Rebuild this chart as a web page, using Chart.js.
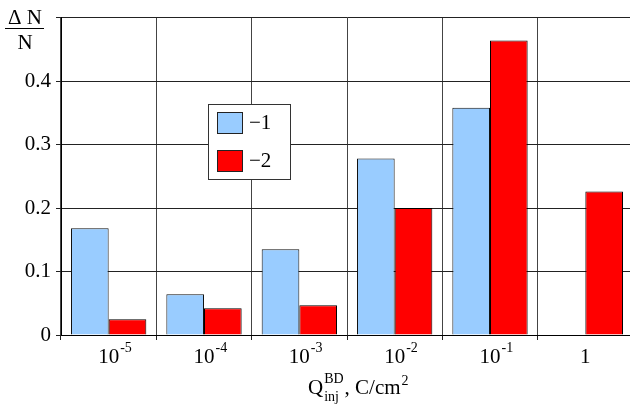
<!DOCTYPE html>
<html>
<head>
<meta charset="utf-8">
<script src="https://cdn.jsdelivr.net/npm/chart.js@4"></script>
<style>
  html, body { margin: 0; padding: 0; background: #fff; overflow: hidden; }
  #wrap { width: 640px; height: 412px; }
</style>
</head>
<body>
<div id="wrap"><canvas id="chart" width="640" height="412"></canvas></div>
<script>
// ===== DATA =====
const categories = ['10|-5', '10|-4', '10|-3', '10|-2', '10|-1', '1|'];
const series1 = [0.168, 0.064, 0.135, 0.278, 0.358, null];
const series2 = [0.025, 0.042, 0.047, 0.200, 0.464, 0.226];
const seriesLabels = ['\u22121', '\u22122'];
const yTicks = [0, 0.1, 0.2, 0.3, 0.4, 0.5];

const SERIF = '"Liberation Serif", "Times New Roman", serif';

/**
 * Draw the x tick labels as base + superscript exponent, plus axis titles
 */
const xLabelPlugin = {
    id: 'xLabels',
    afterDraw(chart) {
        const ctx = chart.ctx;
        const xs = chart.scales.x;
        ctx.save();
        ctx.fillStyle = '#000';
        ctx.textBaseline = 'alphabetic';
        categories.forEach((lab, i) => {
            const parts = lab.split('|');
            const cx = xs.getPixelForValue(i);
            ctx.font = '21px ' + SERIF;
            const w = ctx.measureText(parts[0]).width;
            ctx.textAlign = 'left';
            ctx.fillText(parts[0], cx - w / 2, 363);
            if (parts[1]) {
                ctx.font = '14px ' + SERIF;
                ctx.fillText(parts[1], cx + w / 2 + 1, 352);
            }
        });

        // axis title: Q_inj^BD , C/cm^2
        let x = 308;
        ctx.font = '21px ' + SERIF;
        ctx.fillText('Q', x, 394);
        x += ctx.measureText('Q').width + 1;
        ctx.font = '14px ' + SERIF;
        ctx.fillText('BD', x, 383);
        ctx.fillText('inj', x, 401);
        x += ctx.measureText('BD').width + 1;
        ctx.font = '21px ' + SERIF;
        ctx.fillText(', C/cm', x, 394);
        x += ctx.measureText(', C/cm').width + 1;
        ctx.font = '14px ' + SERIF;
        ctx.fillText('2', x, 385);

        // y axis title as fraction dN/N
        ctx.font = '21px ' + SERIF;
        ctx.textAlign = 'center';
        ctx.fillText('\u0394 N', 25, 24);
        ctx.fillText('N', 25, 49);
        ctx.strokeStyle = '#000';
        ctx.lineWidth = 1;
        ctx.beginPath();
        ctx.moveTo(5, 28.5);
        ctx.lineTo(44, 28.5);
        ctx.stroke();
        ctx.restore();
    }
};

/**
 * Boxed legend placed inside the plot area
 */
const boxLegendPlugin = {
    id: 'boxLegend',
    afterDraw(chart) {
        const ctx = chart.ctx;
        ctx.save();
        ctx.fillStyle = '#fff';
        ctx.fillRect(208, 104, 83, 76);
        ctx.strokeStyle = '#333';
        ctx.lineWidth = 1;
        ctx.strokeRect(208.5, 104.5, 82, 75);
        chart.data.datasets.forEach((ds, i) => {
            const y = 112 + i * 38;
            ctx.fillStyle = ds.backgroundColor;
            ctx.fillRect(217, y, 26, 22);
            ctx.strokeStyle = '#222';
            ctx.strokeRect(217.5, y + 0.5, 25, 21);
            ctx.fillStyle = '#000';
            ctx.font = '21px ' + SERIF;
            ctx.textAlign = 'left';
            ctx.textBaseline = 'middle';
            ctx.fillText(ds.label, 249, y + 11);
        });
        ctx.restore();
    }
};

function drawChart() {
    const ctx = document.getElementById('chart').getContext('2d');
    new Chart(ctx, {
        type: 'bar',
        data: {
            labels: categories,
            datasets: [{
                label: seriesLabels[0],
                data: series1,
                backgroundColor: '#99ccff',
                borderColor: '#111',
                borderWidth: 1
            }, {
                label: seriesLabels[1],
                data: series2,
                backgroundColor: '#ff0000',
                borderColor: '#000',
                borderWidth: 1
            }]
        },
        options: {
            responsive: false,
            animation: false,
            layout: { padding: { left: 0, top: 16, right: 7, bottom: 0 } },
            categoryPercentage: 0.79,
            barPercentage: 1.0,
            plugins: {
                legend: { display: false },
                tooltip: { enabled: false }
            },
            scales: {
                x: {
                    grid: {
                        offset: true,
                        color: '#444',
                        lineWidth: 1,
                        tickLength: 5,
                        tickColor: '#222'
                    },
                    border: { color: '#000', width: 1 },
                    ticks: { display: false },
                    afterFit(scale) { scale.height = 77; }
                },
                y: {
                    min: 0,
                    max: 0.5,
                    afterBuildTicks(scale) {
                        scale.ticks = yTicks.map(v => ({ value: v }));
                    },
                    grid: {
                        color: '#222',
                        lineWidth: 1,
                        tickLength: 5,
                        tickColor: '#222'
                    },
                    border: { color: '#000', width: 1 },
                    ticks: {
                        padding: 5,
                        color: '#000',
                        font: { family: SERIF, size: 21 },
                        callback: function(v) {
                            return v >= 0.5 ? '' : String(Math.round(v * 10) / 10);
                        }
                    },
                    afterFit(scale) { scale.width = 61; }
                }
            }
        },
        plugins: [xLabelPlugin, boxLegendPlugin]
    });
}

document.addEventListener('DOMContentLoaded', function() {
    "use strict";
    drawChart();
});
</script>
</body>
</html>
